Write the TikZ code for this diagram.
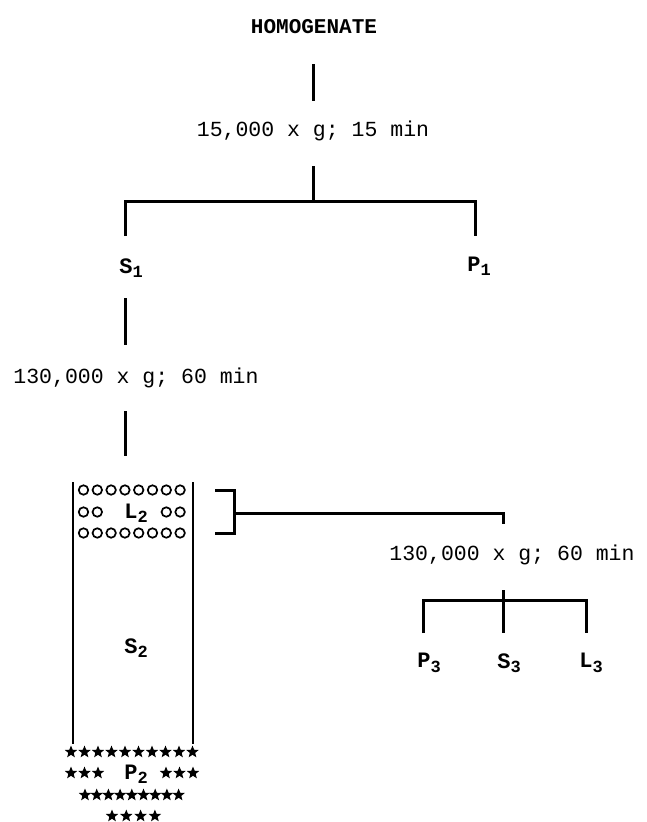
\documentclass[tikz,border=0pt]{standalone}
\usepackage{fontspec}
\setmonofont{Liberation Mono}
\usetikzlibrary{shapes.geometric}
\newcommand{\sbs}[1]{\raisebox{-4.5pt}{\fontsize{17}{17}\selectfont #1}}
\tikzset{
  conn/.style={line width=3pt, line cap=butt},
  tube/.style={line width=1.2pt},
  cond/.style={font=\ttfamily\fontsize{21.5}{22}\selectfont, inner sep=0pt},
  lbl/.style={font=\ttfamily\bfseries\fontsize{22}{22}\selectfont, inner sep=0pt},
  bubble/.style={circle, draw, line width=1.7pt, minimum size=9.5pt, inner sep=0pt},
  starmark/.style={star, star points=5, star point ratio=2.3, fill=black, minimum size=13pt, inner sep=0pt},
}
\begin{document}
\begin{tikzpicture}[x=1pt,y=-1pt]
\useasboundingbox (0,0) rectangle (646,822);
% top
\node[lbl, font=\ttfamily\bfseries\fontsize{21}{22}\selectfont] (hom) at (314,27) {HOMOGENATE};
\coordinate (a1) at (313,64); \coordinate (a2) at (313,101);
\draw[conn] (a1) -- (a2);
\node[cond] (c1) at (313,131) {15,000 x g; 15 min};
\coordinate (b0) at (313,166); \coordinate (b1) at (313,201);
\coordinate (bl) at (125,201); \coordinate (br) at (475,201);
\coordinate (bll) at (125,236); \coordinate (brr) at (475,236);
\draw[conn] (b0) -- (b1);
\draw[conn] (bll) -- (bl) -- (br) -- (brr);
\node[lbl] (s1) at (131,268) {S\sbs{1}};
\node[lbl] (p1) at (479,266) {P\sbs{1}};
\coordinate (d1) at (125,298); \coordinate (d2) at (125,345);
\draw[conn] (d1) -- (d2);
\node[cond] (c2) at (136,378) {130,000 x g; 60 min};
\coordinate (e1) at (125,411); \coordinate (e2) at (125,456);
\draw[conn] (e1) -- (e2);
% tube
\coordinate (tl1) at (73,482); \coordinate (tl2) at (73,744);
\coordinate (tr1) at (193,482); \coordinate (tr2) at (193,744);
\draw[tube] (tl1) -- (tl2);
\draw[tube] (tr1) -- (tr2);
% bubbles
\foreach \i in {0,...,7} {
  \node[bubble] (ba\i) at ({83.5+13.8*\i},490) {};
  \node[bubble] (bc\i) at ({83.5+13.8*\i},533) {};
}
\foreach \i in {0,1,6,7} {
  \node[bubble] (bb\i) at ({83.5+13.8*\i},512) {};
}
\node[lbl] (l2) at (136,513) {L\sbs{2}};
\node[lbl] (s2) at (136,648) {S\sbs{2}};
% bracket
\coordinate (k1) at (215,490); \coordinate (k2) at (234,490);
\coordinate (k3) at (234,533); \coordinate (k4) at (215,533);
\coordinate (k5) at (234,513); \coordinate (k6) at (503,513); \coordinate (k7) at (503,524);
\draw[conn] (k1) -- (k2) -- (k3) -- (k4);
\draw[conn] (k5) -- (k6) -- (k7);
\node[cond] (c3) at (512,555) {130,000 x g; 60 min};
\coordinate (m0) at (503,590); \coordinate (m1) at (503,633);
\coordinate (ml) at (423,600); \coordinate (mr) at (586,600);
\coordinate (mll) at (423,633); \coordinate (mrr) at (586,633);
\draw[conn] (m0) -- (m1);
\draw[conn] (mll) -- (ml) -- (mr) -- (mrr);
\node[lbl] (p3) at (429,663) {P\sbs{3}};
\node[lbl] (s3) at (509,663) {S\sbs{3}};
\node[lbl] (l3) at (591,663) {L\sbs{3}};
% pellet stars
\foreach \i in {0,...,9} { \node[starmark] (r1\i) at ({71+13.5*\i},752) {}; }
\foreach \i in {0,1,2} { \node[starmark] (r2a\i) at ({71+13.5*\i},773) {}; }
\foreach \i in {0,1,2} { \node[starmark] (r2b\i) at ({166+13.5*\i},773) {}; }
\foreach \i in {0,...,8} { \node[starmark] (r3\i) at ({85+11.7*\i},795) {}; }
\foreach \i in {0,...,3} { \node[starmark] (r4\i) at ({112+14.3*\i},816) {}; }
\node[lbl] (p2) at (136,774) {P\sbs{2}};
\end{tikzpicture}
\end{document}
